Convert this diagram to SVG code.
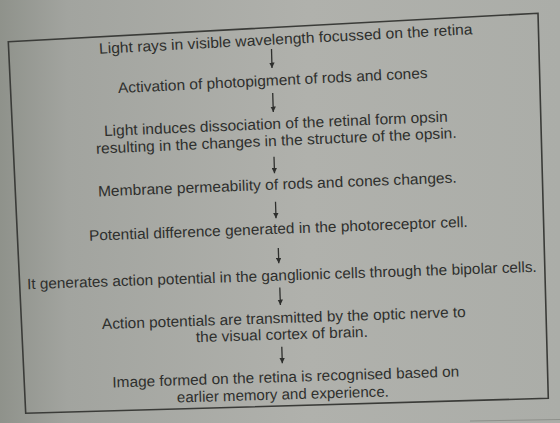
<svg xmlns="http://www.w3.org/2000/svg" width="560" height="423" viewBox="0 0 560 423">
<style>
.t{font-family:"Liberation Sans",Arial,sans-serif;font-size:15px;fill:#2e2f2d;text-anchor:middle}
.c{stroke:#2e2f2d;stroke-width:1.3;fill:none}
.box{fill:none;stroke:#3a3b38;stroke-width:1.6;stroke-linejoin:miter}
</style>
<defs>
<linearGradient id="bg" x1="0" y1="0" x2="1" y2="0">
<stop offset="0" stop-color="#8f928b"/>
<stop offset="0.12" stop-color="#a2a49f"/>
<stop offset="0.55" stop-color="#b0b1ac"/>
<stop offset="1" stop-color="#abada8"/>
</linearGradient>
<marker id="ah" viewBox="0 0 10 10" refX="10" refY="5" markerWidth="5.5" markerHeight="5.5" markerUnits="userSpaceOnUse" orient="auto">
<path d="M0,0 L10,5 L0,10 Z" fill="#2e2f2d"/>
</marker>
</defs>
<rect width="560" height="423" fill="url(#bg)"/>
<polygon class="box" points="8.3,41.7 538,13.3 548.3,398.3 25.7,413.3"/>
<line x1="470" y1="421" x2="560" y2="419.5" stroke="#8e908b" stroke-width="1"/>
<g id="connectors">
<line class="c" x1="271.5" y1="49" x2="272" y2="68" marker-end="url(#ah)"/>
<line class="c" x1="272.7" y1="93" x2="273.3" y2="112" marker-end="url(#ah)"/>
<line class="c" x1="274" y1="156.7" x2="274.5" y2="173.3" marker-end="url(#ah)"/>
<line class="c" x1="275.5" y1="201.7" x2="276" y2="218.3" marker-end="url(#ah)"/>
<line class="c" x1="278.3" y1="248" x2="278.8" y2="263.3" marker-end="url(#ah)"/>
<line class="c" x1="279.8" y1="287.5" x2="280.4" y2="305" marker-end="url(#ah)"/>
<line class="c" x1="281.8" y1="346.7" x2="282.3" y2="363.3" marker-end="url(#ah)"/>
</g>
<g id="n1"><text class="t" transform="translate(286,44) rotate(-3)" textLength="374" lengthAdjust="spacingAndGlyphs">Light rays in visible wavelength focussed on the retina</text></g>
<g id="n2"><text class="t" transform="translate(273,85.5) rotate(-2.8)" textLength="310" lengthAdjust="spacingAndGlyphs">Activation of photopigment of rods and cones</text></g>
<g id="n3">
<text class="t" transform="translate(276,128.8) rotate(-2.4)" textLength="344" lengthAdjust="spacingAndGlyphs">Light induces dissociation of the retinal form opsin</text>
<text class="t" transform="translate(276.5,145.8) rotate(-2.5)" textLength="361" lengthAdjust="spacingAndGlyphs">resulting in the changes in the structure of the opsin.</text>
</g>
<g id="n4"><text class="t" transform="translate(277.5,189.5) rotate(-2.2)" textLength="359" lengthAdjust="spacingAndGlyphs">Membrane permeability of rods and cones changes.</text></g>
<g id="n5"><text class="t" transform="translate(278.5,233.8) rotate(-2.1)" textLength="379" lengthAdjust="spacingAndGlyphs">Potential difference generated in the photoreceptor cell.</text></g>
<g id="n6"><text class="t" transform="translate(282,280.5) rotate(-1.95)" textLength="510" lengthAdjust="spacingAndGlyphs">It generates action potential in the ganglionic cells through the bipolar cells.</text></g>
<g id="n7">
<text class="t" transform="translate(284,323) rotate(-1.9)" textLength="364" lengthAdjust="spacingAndGlyphs">Action potentials are transmitted by the optic nerve to</text>
<text class="t" transform="translate(282,339.5) rotate(-1.8)" textLength="172" lengthAdjust="spacingAndGlyphs">the visual cortex of brain.</text>
</g>
<g id="n8">
<text class="t" transform="translate(286,382) rotate(-1.8)" textLength="347" lengthAdjust="spacingAndGlyphs">Image formed on the retina is recognised based on</text>
<text class="t" transform="translate(283,399.5) rotate(-1.6)" textLength="212" lengthAdjust="spacingAndGlyphs">earlier memory and experience.</text>
</g>
</svg>
